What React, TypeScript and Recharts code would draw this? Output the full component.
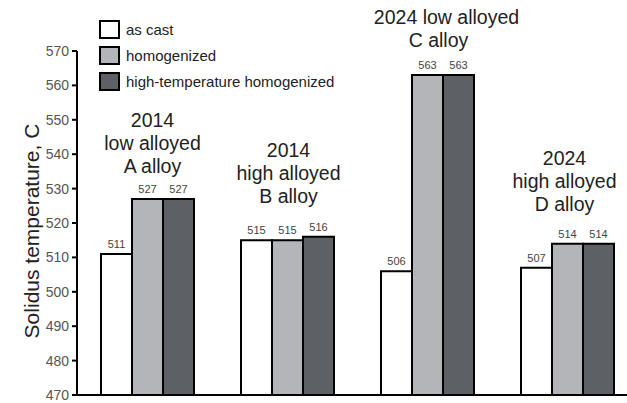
import React from "react";
import { Bar, BarChart, LabelList, Legend, XAxis, YAxis } from "recharts";

const alloys = ["A", "B", "C", "D"];
const asCast = [511, 515, 506, 507];
const homogenized = [527, 515, 563, 514];
const highTempHomogenized = [527, 516, 563, 514];
const yTicks = [470, 480, 490, 500, 510, 520, 530, 540, 550, 560, 570];
const seriesOrder = ["as cast", "homogenized", "high-temperature homogenized"];

// group captions drawn above each cluster
const captions = [
  ["2014", "low alloyed", "A alloy"],
  ["2014", "high alloyed", "B alloy"],
  ["2024 low alloyed", "C alloy"],
  ["2024", "high alloyed", "D alloy"],
];
const captionShiftX = [
  [5, 5, 5],
  [1, 1, 1],
  [19, 11],
  [-3, -3, -3],
];
const captionGap = [33, 44, 35, 40];

const data = alloys.map((alloy, i) => ({
  alloy,
  asCast: asCast[i],
  homogenized: homogenized[i],
  highTemp: highTempHomogenized[i],
}));

const FONT = '"Liberation Sans", Arial, sans-serif';

const renderCaption = (props: any) => {
  const { x, y, width, index } = props;
  const lines = captions[index];
  const cx = x + width / 2;
  const lastY = y - captionGap[index];
  return (
    <g>
      {lines.map((line, i) => (
        <text
          key={i}
          x={cx + captionShiftX[index][i]}
          y={lastY - (lines.length - 1 - i) * 23}
          textAnchor="middle"
          dominantBaseline="central"
          fontSize={19.5}
          fill="#222"
          fontFamily={FONT}
        >
          {line}
        </text>
      ))}
    </g>
  );
};

const renderLegend = (props: any) => {
  const items = [...props.payload].sort(
    (a: any, b: any) => seriesOrder.indexOf(a.value) - seriesOrder.indexOf(b.value)
  );
  return (
    <div style={{ fontFamily: FONT }}>
      {items.map((item: any, i: number) => (
        <div
          key={i}
          style={{ display: "flex", alignItems: "center", height: 26 }}
        >
          <div
            style={{
              width: 17,
              height: 15,
              border: "2px solid #000",
              background: item.color,
              marginRight: 6,
            }}
          />
          <span style={{ fontSize: 15, color: "#222" }}>{item.value}</span>
        </div>
      ))}
    </div>
  );
};

export default function App() {
  return (
    <div
      style={{
        position: "absolute",
        left: 0,
        top: 0,
        width: 627,
        height: 403,
        overflow: "hidden",
        background: "#fff",
      }}
    >
      <BarChart
        width={640}
        height={403}
        data={data}
        margin={{ top: 51, right: 3, left: 0, bottom: 7 }}
        barGap={0}
        barSize={31}
      >
        <XAxis
          dataKey="alloy"
          height={1}
          tick={false}
          tickLine={false}
          axisLine={{ stroke: "#000", strokeWidth: 2 }}
        />
        <YAxis
          width={77}
          domain={[470, 570]}
          ticks={yTicks}
          interval={0}
          tick={{ fill: "#555", fontSize: 14, fontFamily: FONT }}
          tickSize={5}
          tickMargin={3}
          tickLine={{ stroke: "#000", strokeWidth: 2 }}
          axisLine={{ stroke: "#000", strokeWidth: 2 }}
          label={{
            content: () => (
              <text
                x={31}
                y={231}
                transform="rotate(-90, 31, 231)"
                textAnchor="middle"
                dominantBaseline="central"
                fontSize={21}
                fill="#222"
                fontFamily={FONT}
              >
                Solidus temperature, C
              </text>
            ),
          }}
        />
        <Legend
          layout="vertical"
          align="center"
          verticalAlign="middle"
          content={renderLegend}
          wrapperStyle={{ left: 99, top: 16, width: "auto" }}
        />
        <Bar
          dataKey="asCast"
          name="as cast"
          fill="#ffffff"
          stroke="#000"
          strokeWidth={2}
          isAnimationActive={false}
        >
          <LabelList
            dataKey="asCast"
            position="top"
            offset={6}
            fontSize={11}
            fill="#444"
            fontFamily={FONT}
          />
        </Bar>
        <Bar
          dataKey="homogenized"
          name="homogenized"
          fill="#b3b5b8"
          stroke="#000"
          strokeWidth={2}
          isAnimationActive={false}
        >
          <LabelList
            dataKey="homogenized"
            position="top"
            offset={6}
            fontSize={11}
            fill="#444"
            fontFamily={FONT}
          />
          <LabelList dataKey="homogenized" content={renderCaption} />
        </Bar>
        <Bar
          dataKey="highTemp"
          name="high-temperature homogenized"
          fill="#5d6064"
          stroke="#000"
          strokeWidth={2}
          isAnimationActive={false}
        >
          <LabelList
            dataKey="highTemp"
            position="top"
            offset={6}
            fontSize={11}
            fill="#444"
            fontFamily={FONT}
          />
        </Bar>
      </BarChart>
    </div>
  );
}
